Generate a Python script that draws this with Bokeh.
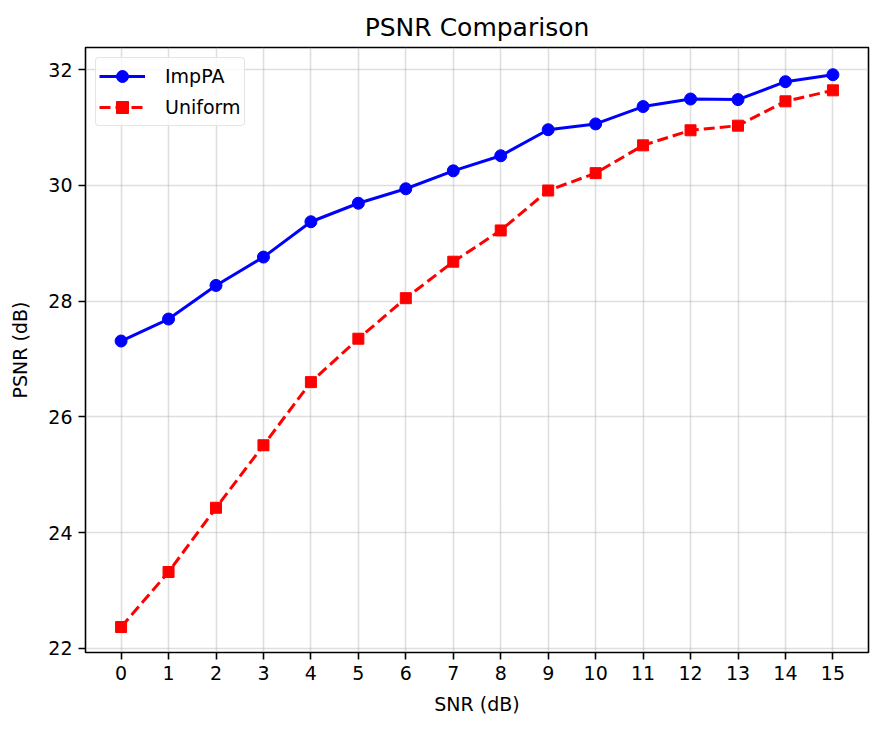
from bokeh.plotting import figure
from bokeh.models import Range1d, FixedTicker, Legend, LegendItem
from bokeh.embed import file_html
from bokeh.resources import INLINE

snr = list(range(16))
impPA = [27.31, 27.69, 28.27, 28.76, 29.37, 29.69, 29.94, 30.25, 30.51, 30.96,
         31.06, 31.36, 31.49, 31.48, 31.79, 31.91]
uniform = [22.37, 23.32, 24.43, 25.51, 26.60, 27.35, 28.05, 28.68, 29.22, 29.91,
           30.21, 30.69, 30.95, 31.03, 31.45, 31.64]
x_ticks = list(range(16))
y_ticks = [22, 24, 26, 28, 30, 32]

FONT = "DejaVu Sans"

p = figure(width=884, height=731, output_backend="svg", toolbar_location=None,
           x_range=Range1d(-0.75, 15.75), y_range=Range1d(21.93, 32.38),
           min_border_left=85, min_border_right=16, min_border_top=47, min_border_bottom=79)

p.title.text = "PSNR Comparison"
p.title.align = "center"
p.title.text_font = FONT
p.title.text_font_size = "25px"
p.title.text_font_style = "normal"
p.title.text_color = "black"
p.title.standoff = 12

p.outline_line_color = "black"
p.outline_line_width = 1.6
p.background_fill_color = "white"
p.border_fill_color = "white"

for ax in (p.xaxis[0], p.yaxis[0]):
    ax.axis_line_color = None
    ax.major_tick_line_color = "black"
    ax.major_tick_line_width = 1.6
    ax.major_tick_out = 7
    ax.major_tick_in = 0
    ax.minor_tick_line_color = None
    ax.major_label_text_font = FONT
    ax.major_label_text_font_size = "19px"
    ax.major_label_text_color = "black"
    ax.major_label_standoff = 6
    ax.axis_label_text_font = FONT
    ax.axis_label_text_font_size = "19px"
    ax.axis_label_text_font_style = "normal"
    ax.axis_label_text_color = "black"

p.xaxis[0].axis_label_standoff = 10
p.yaxis[0].axis_label_standoff = 14
p.xaxis[0].ticker = FixedTicker(ticks=x_ticks)
p.yaxis[0].ticker = FixedTicker(ticks=y_ticks)
p.xaxis[0].axis_label = "SNR (dB)"
p.yaxis[0].axis_label = "PSNR (dB)"

p.grid.grid_line_color = "#b0b0b0"
p.grid.grid_line_alpha = 0.4
p.grid.grid_line_width = 1.6
p.xgrid.ticker = FixedTicker(ticks=x_ticks)
p.ygrid.ticker = FixedTicker(ticks=y_ticks)

l1 = p.line(snr, impPA, line_color="blue", line_width=3)
m1 = p.scatter(snr, impPA, marker="circle", size=12, fill_color="blue", line_color="blue")
l2 = p.line(snr, uniform, line_color="red", line_width=3, line_dash="11 5")
m2 = p.scatter(snr, uniform, marker="square", size=11, fill_color="red", line_color="red")

legend = Legend(items=[LegendItem(label="ImpPA", renderers=[l1, m1]),
                       LegendItem(label="Uniform", renderers=[l2, m2])],
                location="top_left")
legend.label_text_font = FONT
legend.label_text_font_size = "19px"
legend.label_text_color = "black"
legend.border_line_color = "#cccccc"
legend.border_line_width = 1.6
legend.border_radius = 4
legend.background_fill_alpha = 0.8
legend.glyph_width = 46
legend.glyph_height = 30
legend.spacing = 1
legend.padding = 3
legend.margin = 10
legend.label_standoff = 20
legend.label_height = 22
p.add_layout(legend)

open("out.html", "w").write(file_html(p, INLINE))
